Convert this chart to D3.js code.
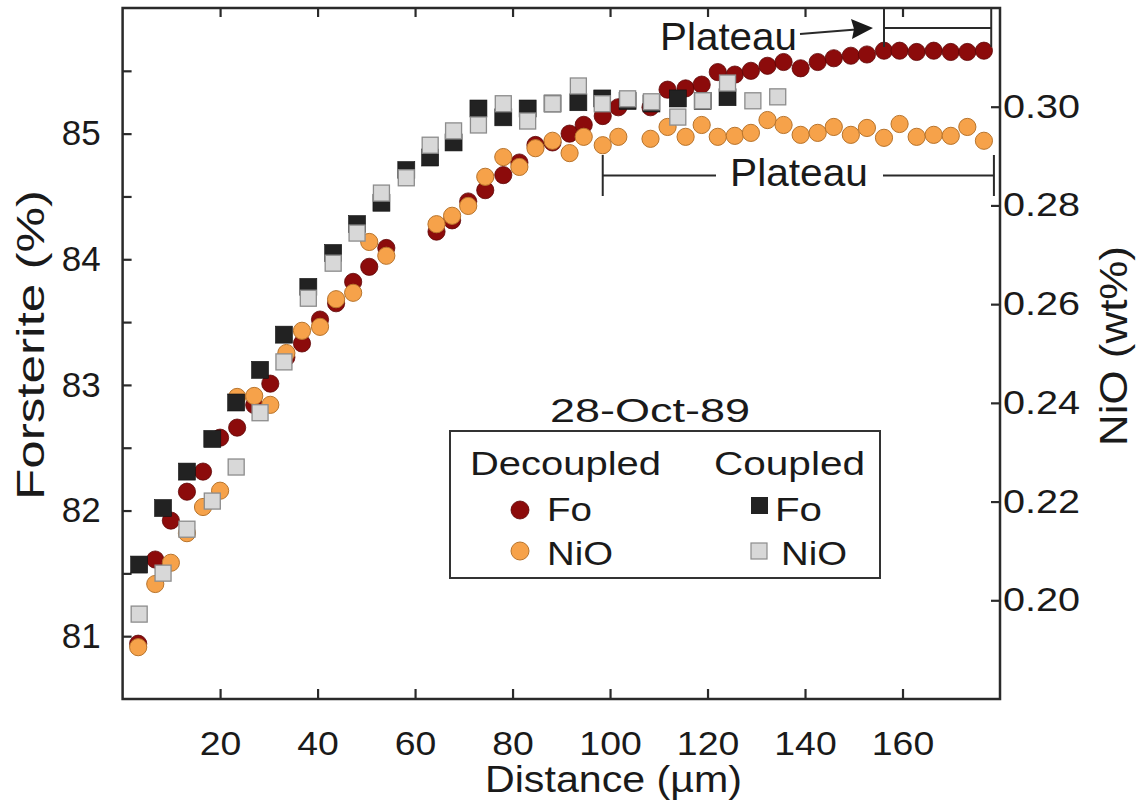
<!DOCTYPE html>
<html><head><meta charset="utf-8">
<script src="https://cdn.jsdelivr.net/npm/d3@7"></script>
<style>
html,body{margin:0;padding:0;background:#fff;}
text{font-family:"Liberation Sans",Arial,Helvetica,sans-serif;fill:#1a1a1a;}
</style></head>
<body>
<svg id="chart" width="1136" height="809"></svg>
<script>
// ---------------- data ----------------
const decX = [3.2, 6.7, 9.9, 13.2, 16.5, 20.0, 23.5, 27.0, 30.3, 33.6, 36.8, 40.5, 43.8, 47.3, 50.6, 54.1,
  64.4, 67.6, 70.9, 74.4, 78.1, 81.4, 84.7, 88.2, 91.7, 94.6, 98.5, 101.7, 108.3, 111.8, 115.5, 118.8,
  122.1, 125.6, 128.9, 132.3, 135.6, 139.1, 142.6, 145.9, 149.4, 152.7, 156.2, 159.4, 162.9, 166.4, 169.9, 173.3, 176.7];
const decFo = [80.94, 81.61, 81.92, 82.15, 82.31, 82.58, 82.66, 82.84, 83.01, 83.22, 83.33, 83.52, 83.65, 83.82, 83.94, 84.09,
  84.22, 84.31, 84.46, 84.55, 84.67, 84.77, 84.91, 84.93, 85.00, 85.07, 85.14, 85.21, 85.21, 85.35, 85.36, 85.39,
  85.49, 85.47, 85.50, 85.54, 85.57, 85.52, 85.57, 85.60, 85.62, 85.63, 85.66, 85.66, 85.65, 85.66, 85.65, 85.65, 85.66];
const decNiO = [0.1905, 0.2033, 0.2076, 0.2136, 0.2189, 0.2222, 0.2412, 0.2414, 0.2396, 0.2501, 0.2546, 0.2554, 0.2610, 0.2623, 0.2726, 0.2698,
  0.2762, 0.2779, 0.2799, 0.2858, 0.2898, 0.2878, 0.2916, 0.2931, 0.2906, 0.2939, 0.2922, 0.2939, 0.2935, 0.2959, 0.2939, 0.2963,
  0.2939, 0.2941, 0.2947, 0.2973, 0.2963, 0.2943, 0.2947, 0.2959, 0.2943, 0.2957, 0.2937, 0.2965, 0.2939, 0.2943, 0.2941, 0.2959, 0.2931];

const coupX = [3.4, 8.3, 13.2, 18.4, 23.3, 28.2, 33.1, 38.1, 43.2, 48.1, 53.1, 58.2, 63.1, 67.9, 73.0, 78.1, 83.1, 88.2,
  93.5, 98.4, 103.6, 108.5, 113.9, 119.0, 124.1, 129.3, 134.4];
const coupFo = [81.57, 82.02, 82.31, 82.57, 82.86, 83.12, 83.40, 83.78, 84.05, 84.28, 84.45, 84.71, 84.81, 84.93, 85.20, 85.13, 85.20, 85.24,
  85.25, 85.28, 85.26, 85.24, 85.28, 85.26, 85.29];
const coupNiO = [0.1972, 0.2055, 0.2144, 0.2201, 0.2270, 0.2380, 0.2483, 0.2612, 0.2683, 0.2744, 0.2825, 0.2856, 0.2922, 0.2951, 0.2963, 0.3006, 0.2971, 0.3006,
  0.3042, 0.3006, 0.3016, 0.3010, 0.2979, 0.3012, 0.3048, 0.3012, 0.3020];

const xTicks = [20, 40, 60, 80, 100, 120, 140, 160];
const foTicks = [81, 81.5, 82, 82.5, 83, 83.5, 84, 84.5, 85, 85.5];
const niTicks = [0.20, 0.22, 0.24, 0.26, 0.28, 0.30];

const decPlateau = [98.5, 176.7];
const coupPlateau = [156.2, 178.2];

// ---------------- layout ----------------
const svg = d3.select("#chart");
const L = 122.6, R = 1000, T = 8, B = 699;
const x = d3.scaleLinear().domain([0, 180]).range([L, R]);
const yFo = d3.scaleLinear().domain([80.5, 86]).range([B, T]);
const yNi = d3.scaleLinear().domain([0.18, 0.32]).range([B, T]);

const axisCol = "#2a2a2a";
const C = {red:"#8c0b0b", redS:"#5e0505", org:"#f6a24a", orgS:"#b8742c", blk:"#222222", gry:"#d8d8d8", gryS:"#8c8c8c"};

function fit(sel, w) { sel.attr("textLength", w).attr("lengthAdjust", "spacingAndGlyphs"); return sel; }
function widen(sel, f) {
  sel.each(function () { const n = this.getComputedTextLength(); d3.select(this).attr("textLength", n * f).attr("lengthAdjust", "spacingAndGlyphs"); });
}

// axes
const gx = svg.append("g").attr("transform", `translate(0,${B})`)
  .call(d3.axisBottom(x).tickValues(xTicks).tickSize(-10).tickPadding(32).tickFormat(d3.format("d")));
const gxt = svg.append("g").attr("transform", `translate(0,${T})`)
  .call(d3.axisTop(x).tickValues(xTicks).tickSize(-9).tickFormat(""));
const gl = svg.append("g").attr("transform", `translate(${L},0)`)
  .call(d3.axisLeft(yFo).tickValues(foTicks).tickSize(-9).tickPadding(22)
    .tickFormat(d => Number.isInteger(d) ? d : ""));
const gr = svg.append("g").attr("transform", `translate(${R},0)`)
  .call(d3.axisRight(yNi).tickValues(niTicks).tickSize(-9).tickPadding(3).tickFormat(d3.format(".2f")));

[gx, gxt, gl, gr].forEach(g => {
  g.select(".domain").remove();
  g.selectAll(".tick line").attr("stroke", axisCol).attr("stroke-width", 2.2);
  g.selectAll(".tick text").attr("fill", "#1a1a1a").attr("font-family", null);
});
gx.selectAll(".tick text").attr("font-size", 34);
gl.selectAll(".tick text").attr("font-size", 35);
gr.selectAll(".tick text").attr("font-size", 33);
widen(gx.selectAll(".tick text"), 1.1);
widen(gr.selectAll(".tick text"), 1.2);

// frame
svg.append("rect").attr("x", L).attr("y", T).attr("width", R - L).attr("height", B - T)
  .attr("fill", "none").attr("stroke", axisCol).attr("stroke-width", 2.5);

// axis titles
fit(svg.append("text").attr("x", 485).attr("y", 792).attr("font-size", 37).text("Distance (µm)"), 257);
fit(svg.append("text").attr("transform", "translate(44,500) rotate(-90)").attr("font-size", 38).text("Forsterite (%)"), 310);
fit(svg.append("text").attr("transform", "translate(1127,446) rotate(-90)").attr("font-size", 38).text("NiO (wt%)"), 200);

// ---------------- marks ----------------
const dec = decX.map((d, i) => ({x: d, fo: decFo[i], ni: decNiO[i]}));
const coupF = coupFo.map((v, i) => ({x: coupX[i], v}));
const coupN = coupNiO.map((v, i) => ({x: coupX[i], v}));
const r = 8.6, s = 17;

svg.append("g").selectAll("circle").data(dec).join("circle")
  .attr("cx", d => x(d.x)).attr("cy", d => yFo(d.fo)).attr("r", r)
  .attr("fill", C.red).attr("stroke", C.redS).attr("stroke-width", 0.8);
svg.append("g").selectAll("circle").data(dec).join("circle")
  .attr("cx", d => x(d.x)).attr("cy", d => yNi(d.ni)).attr("r", r)
  .attr("fill", C.org).attr("stroke", C.orgS).attr("stroke-width", 1);
svg.append("g").selectAll("rect").data(coupF).join("rect")
  .attr("x", d => x(d.x) - s / 2).attr("y", d => yFo(d.v) - s / 2).attr("width", s).attr("height", s)
  .attr("fill", C.blk).attr("stroke", "#111").attr("stroke-width", 0.6);
svg.append("g").selectAll("rect").data(coupN).join("rect")
  .attr("x", d => x(d.x) - s / 2 + 0.5).attr("y", d => yNi(d.v) - s / 2 + 0.5).attr("width", s - 1).attr("height", s - 1)
  .attr("fill", C.gry).attr("stroke", C.gryS).attr("stroke-width", 1.3);

// ---------------- annotations ----------------
const ann = svg.append("g").attr("stroke", axisCol).attr("stroke-width", 2).attr("fill", "none");
// coupled plateau bracket (top)
const cx0 = x(coupPlateau[0]), cx1 = x(coupPlateau[1]);
ann.append("line").attr("x1", cx0).attr("x2", cx0).attr("y1", T).attr("y2", 47);
ann.append("line").attr("x1", cx1).attr("x2", cx1).attr("y1", T).attr("y2", 47);
ann.append("line").attr("x1", cx0).attr("x2", cx1).attr("y1", 28).attr("y2", 28);
fit(svg.append("text").attr("x", 660).attr("y", 50).attr("font-size", 38).text("Plateau"), 137);
ann.append("line").attr("x1", 800).attr("y1", 34).attr("x2", 856).attr("y2", 29.5);
svg.append("path").attr("d", "M873,28 L851,19 L854,29 L852,39 Z").attr("fill", "#1a1a1a");

// decoupled plateau bracket
const dx0 = x(decPlateau[0]), dx1 = x(decPlateau[1]) + 10;
ann.append("line").attr("x1", dx0).attr("x2", dx0).attr("y1", 155).attr("y2", 196);
ann.append("line").attr("x1", dx1).attr("x2", dx1).attr("y1", 155).attr("y2", 196);
ann.append("line").attr("x1", dx0).attr("x2", 716).attr("y1", 175.5).attr("y2", 175.5);
ann.append("line").attr("x1", 883).attr("x2", dx1).attr("y1", 175.5).attr("y2", 175.5);
fit(svg.append("text").attr("x", 730).attr("y", 186).attr("font-size", 38).text("Plateau"), 138);

// ---------------- legend ----------------
fit(svg.append("text").attr("x", 550).attr("y", 422).attr("font-size", 33).text("28-Oct-89"), 200);
svg.append("rect").attr("x", 450).attr("y", 431).attr("width", 430).attr("height", 147)
  .attr("fill", "#fff").attr("stroke", "#333").attr("stroke-width", 2);
const lg = svg.append("g").attr("font-size", 34);
fit(lg.append("text").attr("x", 470).attr("y", 475).text("Decoupled"), 191);
fit(lg.append("text").attr("x", 714).attr("y", 475).text("Coupled"), 151);
lg.append("circle").attr("cx", 520).attr("cy", 510).attr("r", 9).attr("fill", C.red).attr("stroke", C.redS).attr("stroke-width", 0.8);
lg.append("circle").attr("cx", 520).attr("cy", 551).attr("r", 9).attr("fill", C.org).attr("stroke", C.orgS).attr("stroke-width", 1);
lg.append("rect").attr("x", 751).attr("y", 497).attr("width", 17).attr("height", 17).attr("fill", C.blk);
lg.append("rect").attr("x", 751).attr("y", 543).attr("width", 16).attr("height", 16).attr("fill", C.gry).attr("stroke", C.gryS).attr("stroke-width", 1.2);
fit(lg.append("text").attr("x", 547).attr("y", 521).text("Fo"), 45);
fit(lg.append("text").attr("x", 547).attr("y", 565).text("NiO"), 66);
fit(lg.append("text").attr("x", 775).attr("y", 521).text("Fo"), 47);
fit(lg.append("text").attr("x", 781).attr("y", 565).text("NiO"), 66);
</script>
</body></html>
